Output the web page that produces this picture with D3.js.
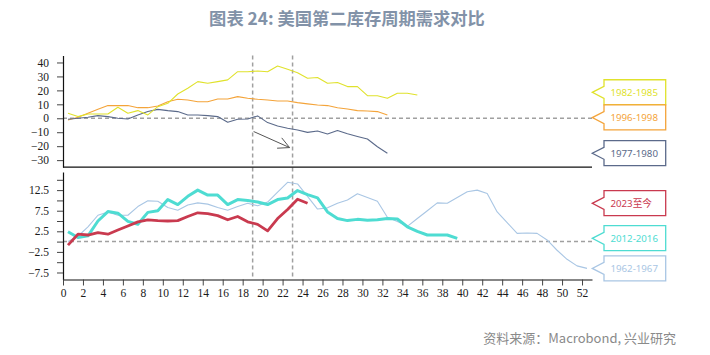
<!DOCTYPE html>
<html>
<head>
<meta charset="utf-8">
<script src="https://cdn.jsdelivr.net/npm/d3@7"></script>
<style>
  html, body { margin: 0; padding: 0; background: #fff; }
  svg { display: block; }
</style>
</head>
<body>
<svg id="chart" width="710" height="355"></svg>
<script>
// ---------- data ----------
const title = "图表 24: 美国第二库存周期需求对比";
const source = "资料来源：Macrobond, 兴业研究";

// top panel series (weeks at 0.5, 1.5, ...)
const s1982 = [3.6, 1.2, 3.1, 3.1, 3.1, 7.9, 3.6, 5.5, 2.4, 8.3, 10.7, 17.4, 21.5, 26.3, 25.1, 26.3, 27.5, 33.4, 33.4, 33.9, 33.4, 37.5, 35.1, 32.7, 28.7, 29.2, 25.1, 25.6, 22.7, 22.7, 16.2, 16.2, 14.3, 17.9, 17.9, 16.7];
const s1996 = [-1.2, 0.7, 3.6, 6.4, 9.1, 9.1, 9.1, 7.6, 7.6, 8.8, 11.9, 13.6, 13.1, 11.9, 11.9, 13.8, 13.8, 15.5, 14.3, 13.6, 13.1, 12.4, 12.4, 11.2, 10.3, 9.5, 9.1, 7.6, 6.7, 5.5, 5.2, 4.8, 2.4];
const s1977 = [-0.7, 0.0, 0.7, 1.9, 1.2, 0.0, -0.5, 2.4, 4.8, 6.4, 5.5, 4.8, 2.4, 2.4, 1.9, 1.2, -2.9, -0.7, -0.5, 1.7, -3.1, -5.5, -7.2, -8.4, -10.1, -9.1, -11.3, -8.8, -11.1, -13.0, -14.9, -20.4, -25.1];

// bottom panel series
const s2023 = [-0.85, 1.8, 1.6, 2.2, 1.8, 2.8, 3.8, 4.8, 5.3, 5.1, 5.0, 5.1, 6.1, 7.0, 6.8, 6.3, 5.3, 6.1, 4.8, 4.2, 2.6, 5.6, 7.8, 10.3, 9.3];
const s2012 = [2.4, 1.0, 1.4, 5.0, 7.3, 6.9, 4.9, 4.2, 7.1, 7.5, 10.2, 9.0, 11.0, 12.5, 11.3, 11.3, 9.0, 10.2, 10.0, 9.6, 9.0, 10.2, 10.6, 12.4, 11.4, 10.6, 7.2, 5.6, 5.1, 5.4, 5.2, 5.3, 5.6, 5.5, 3.6, 2.5, 1.6, 1.6, 1.6, 0.8];
const s1962 = [0.0, 1.3, 3.6, 6.4, 7.2, 6.4, 6.4, 8.5, 9.9, 9.8, 8.3, 7.6, 8.9, 9.4, 9.1, 8.3, 7.6, 8.5, 9.3, 8.7, 9.6, 12.0, 14.4, 14.0, 11.0, 7.9, 8.2, 9.3, 10.1, 11.6, 10.7, 9.8, 5.9, 4.9, 3.7, 5.6, 7.5, 9.4, 9.3, 10.7, 12.1, 12.5, 11.7, 7.2, 4.6, 2.0, 2.1, 2.0, 0.4, -2.1, -4.3, -5.9, -6.5];

const topNames = ["1982-1985", "1996-1998", "1977-1980"];
const botNames = ["2023至今", "2012-2016", "1962-1967"];

const topTicks = [-30, -20, -10, 0, 10, 20, 30, 40];
const botTicks = [-7.5, -5, -2.5, 0, 2.5, 5, 7.5, 10, 12.5, 15];
const botLabelTicks = [-7.5, -2.5, 2.5, 7.5, 12.5];
const xTicks = d3.range(0, 53, 2);

const markWeeks = [19, 23];            // vertical dashed markers
const arrowStart = [19.1, -9.5];       // annotation arrow (x week, y value)
const arrowEnd = [22.7, -21];

// ---------- styles ----------
const colors = {
  "1982-1985": "#e0e22c", "1996-1998": "#f4a43a", "1977-1980": "#5b6a8a",
  "2023至今": "#c93a4f", "2012-2016": "#4edcd2", "1962-1967": "#a9c6e4"
};
const widths = {
  "1982-1985": 1.1, "1996-1998": 1.1, "1977-1980": 1.1,
  "2023至今": 2.8, "2012-2016": 3, "1962-1967": 1.1
};

const svg = d3.select("#chart");

// ---------- scales ----------
const x = d3.scaleLinear().domain([0, 53]).range([63, 592]);
const yTop = d3.scaleLinear().domain([-35, 45]).range([167.1, 55.5]);
const yBot = d3.scaleLinear().domain([-9.2, 16.9]).range([279.5, 172]);

const pts = arr => arr.map((v, i) => [i + 0.5, v]);

// ---------- title & source ----------
svg.append("text").attr("x", 347).attr("y", 24.5).attr("text-anchor", "middle")
  .attr("font-family", "'Noto Sans CJK SC', 'Noto Sans', sans-serif")
  .attr("font-weight", "bold").attr("font-size", 17.3).attr("fill", "#8292a8")
  .text(title);
svg.append("text").attr("x", 676).attr("y", 342.5).attr("text-anchor", "end")
  .attr("font-family", "'Noto Sans CJK SC', 'Noto Sans', sans-serif")
  .attr("font-size", 13).attr("fill", "#8a8a8a")
  .text(source);

// ---------- dashed reference lines ----------
const dashStyle = g => g.attr("stroke", "#a0a0a0").attr("stroke-width", 1.5)
  .attr("stroke-dasharray", "4,3").attr("fill", "none");

svg.append("line").attr("x1", x(0)).attr("x2", x(53))
  .attr("y1", yTop(0)).attr("y2", yTop(0)).call(dashStyle);
svg.append("line").attr("x1", x(0)).attr("x2", x(53))
  .attr("y1", yBot(0)).attr("y2", yBot(0)).call(dashStyle);
markWeeks.forEach(w => {
  svg.append("line").attr("x1", x(w)).attr("x2", x(w))
    .attr("y1", yTop(45)).attr("y2", yBot(-9.2)).call(dashStyle);
});

// ---------- lines ----------
const lineTop = d3.line().x(d => x(d[0])).y(d => yTop(d[1]));
const lineBot = d3.line().x(d => x(d[0])).y(d => yBot(d[1]));

const topSeries = [[topNames[1], s1996], [topNames[2], s1977], [topNames[0], s1982]];
topSeries.forEach(([name, arr]) => {
  svg.append("path").datum(pts(arr)).attr("d", lineTop)
    .attr("fill", "none").attr("stroke", colors[name]).attr("stroke-width", widths[name])
    .attr("stroke-linejoin", "round");
});
const botSeries = [[botNames[2], s1962], [botNames[1], s2012], [botNames[0], s2023]];
botSeries.forEach(([name, arr]) => {
  svg.append("path").datum(pts(arr)).attr("d", lineBot)
    .attr("fill", "none").attr("stroke", colors[name]).attr("stroke-width", widths[name])
    .attr("stroke-linejoin", "round");
});

// ---------- arrow annotation ----------
{
  const x1 = x(arrowStart[0]), y1 = yTop(arrowStart[1]);
  const x2 = x(arrowEnd[0]), y2 = yTop(arrowEnd[1]);
  const ang = Math.atan2(y1 - y2, x1 - x2);
  const L = 12.5, spread = 27 * Math.PI / 180;
  const g = svg.append("g").attr("stroke", "#555").attr("stroke-width", 1).attr("fill", "none");
  g.append("line").attr("x1", x1).attr("y1", y1).attr("x2", x2).attr("y2", y2);
  [ang - spread, ang + spread].forEach(a => {
    g.append("line").attr("x1", x2).attr("y1", y2)
      .attr("x2", x2 + L * Math.cos(a)).attr("y2", y2 + L * Math.sin(a));
  });
}

// ---------- axes ----------
const axisFont = "'Liberation Serif', 'Times New Roman', serif";
const styleAxis = g => {
  g.selectAll("text").attr("font-family", axisFont).attr("font-size", 11.5).attr("fill", "#1a1a1a");
  g.selectAll("line").attr("stroke", "#444");
  g.select(".domain").attr("stroke", "#111").attr("stroke-width", 1.2);
};

svg.append("g").attr("transform", `translate(${x(0)},0)`)
  .call(d3.axisLeft(yTop).tickValues(topTicks).tickSize(6).tickSizeOuter(0).tickPadding(8))
  .call(styleAxis);

// top panel bottom rule
svg.append("line").attr("x1", x(0)).attr("x2", x(53))
  .attr("y1", yTop(-35)).attr("y2", yTop(-35))
  .attr("stroke", "#111").attr("stroke-width", 1.4);

svg.append("g").attr("transform", `translate(${x(0)},0)`)
  .call(d3.axisLeft(yBot).tickValues(botTicks).tickSize(6).tickSizeOuter(0).tickPadding(8)
    .tickFormat(d => botLabelTicks.includes(d) ? d3.format(".1f")(d) : ""))
  .call(styleAxis);

svg.append("g").attr("transform", `translate(0,${yBot(-9.2)})`)
  .call(d3.axisBottom(x).tickValues(xTicks).tickSize(6).tickSizeOuter(0).tickFormat(d3.format("d")))
  .call(styleAxis);

// ---------- callout labels ----------
function placeLabels(items, scale) {
  const H = 25.2;
  items.forEach(d => d.y = scale(d.v));
  items.sort((a, b) => a.y - b.y);
  for (let iter = 0; iter < 50; iter++) {
    let moved = false;
    for (let i = 1; i < items.length; i++) {
      const gap = items[i].y - items[i - 1].y;
      if (gap < H) {
        const push = (H - gap) / 2;
        items[i - 1].y -= push; items[i].y += push; moved = true;
      }
    }
    if (!moved) break;
  }
  items.forEach(d => {
    const tx = 592.3, bx = 604, bw = 61.7, ty = d.y;
    const top = ty - 12.6, bot = ty + 12.4;
    const p = d3.path();
    p.moveTo(bx, top); p.lineTo(bx + bw, top); p.lineTo(bx + bw, bot); p.lineTo(bx, bot);
    p.lineTo(bx, ty + 6); p.lineTo(tx, ty); p.lineTo(bx, ty - 6); p.closePath();
    svg.append("path").attr("d", p.toString()).attr("fill", "#fff")
      .attr("stroke", colors[d.name]).attr("stroke-width", 1.3);
    svg.append("text").attr("x", 610.5).attr("y", ty).attr("dy", "0.35em")
      .attr("font-family", "'Noto Sans', 'Noto Sans CJK SC', sans-serif")
      .attr("font-size", 9.7).attr("fill", colors[d.name]).text(d.name);
  });
}
placeLabels([
  { name: topNames[0], v: s1982[s1982.length - 1] },
  { name: topNames[1], v: s1996[s1996.length - 1] },
  { name: topNames[2], v: s1977[s1977.length - 1] }
], yTop);
placeLabels([
  { name: botNames[0], v: s2023[s2023.length - 1] },
  { name: botNames[1], v: s2012[s2012.length - 1] },
  { name: botNames[2], v: s1962[s1962.length - 1] }
], yBot);
</script>
</body>
</html>
